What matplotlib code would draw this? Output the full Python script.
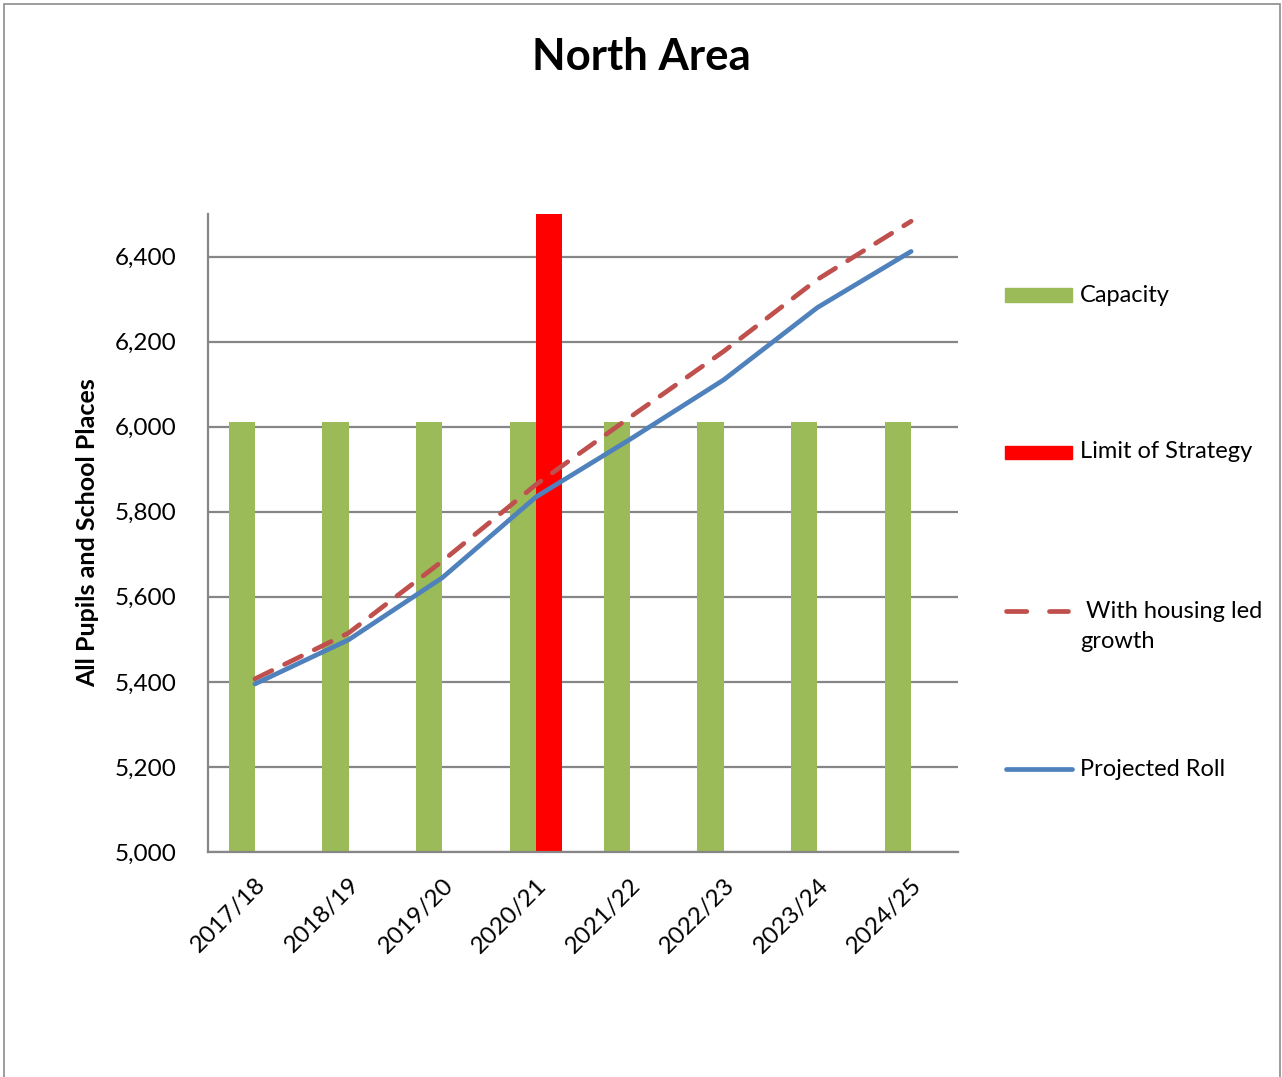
import numpy as np
import matplotlib
matplotlib.use("Agg")
import matplotlib.pyplot as plt
from matplotlib.patches import Rectangle
from matplotlib.lines import Line2D
from matplotlib.ticker import FuncFormatter

## Data
years = ["2017/18", "2018/19", "2019/20", "2020/21",
         "2021/22", "2022/23", "2023/24", "2024/25"]
capacity = [6010, 6010, 6010, 6010, 6010, 6010, 6010, 6010]
limit_of_strategy = [0, 0, 0, 6500, 0, 0, 0, 0]
housing_growth = [5407, 5515, 5684, 5864, 6022, 6177, 6346, 6483]
projected_roll = [5395, 5499, 5645, 5835, 5970, 6110, 6280, 6412]

GREEN = "#9BBB59"
RED = "#FF0000"
DASH_RED = "#C0504D"
BLUE = "#4F81BD"
GRID = "#868686"

plt.rcParams["font.family"] = ["Lato", "DejaVu Sans"]

W, H = 1282, 1077


def fx(px):
  # Pixel x to figure fraction.
  return px / W


def fy(py):
  # Pixel y (from top) to figure fraction.
  return 1 - py / H


# Figure with the thin grey frame round it.
fig = plt.figure(figsize=(W / 100, H / 100), dpi=100)
fig.patches.append(Rectangle((fx(4), -0.01), fx(1276), 1.0 - 4 / H + 0.01,
                             transform=fig.transFigure, fill=False,
                             edgecolor="#8c8c8c", linewidth=1.2))

ax = fig.add_axes([fx(208), fy(852), fx(750), 638 / H])
x = np.arange(len(years))
w = 0.28

# Bars: capacity left of centre, limit of strategy right of centre.
ax.bar(x - w / 2, capacity, width=w, color=GREEN, zorder=2)
ax.bar(x + w / 2, limit_of_strategy, width=w, color=RED, zorder=2)

# Lines.
ax.plot(x, housing_growth, color=DASH_RED, linewidth=3.4, dashes=(4, 3),
        dash_capstyle="round", zorder=3)
ax.plot(x, projected_roll, color=BLUE, linewidth=3.4,
        solid_capstyle="round", zorder=4)

# Axes, ticks and grid.
ax.set_xlim(-0.5, len(years) - 0.5)
ax.set_ylim(5000, 6500)
ax.set_yticks(np.arange(5000, 6401, 200))
ax.yaxis.set_major_formatter(FuncFormatter(lambda v, p: f"{int(v):,}"))
ax.set_xticks(x)
ax.set_xticklabels(years, rotation=45, ha="right", rotation_mode="anchor")
ax.tick_params(axis="x", length=0, labelsize=17.5, pad=16)
ax.tick_params(axis="y", length=0, labelsize=17.5, pad=23)
ax.grid(axis="y", color=GRID, linewidth=1.6, zorder=0)
ax.set_axisbelow(True)
for side in ["top", "right"]:
  ax.spines[side].set_visible(False)
for side in ["left", "bottom"]:
  ax.spines[side].set_color(GRID)
  ax.spines[side].set_linewidth(1.6)

fig.text(fx(88), fy(533), "All Pupils and School Places", rotation=90,
         ha="center", va="center", fontsize=18, fontweight="bold")
fig.text(0.5, fy(57), "North Area", ha="center", va="center",
         fontsize=31.5, fontweight="bold")

# Legend on the right, drawn by hand so each entry sits where it does.
fig.patches.append(Rectangle((fx(1005), fy(302)), fx(67), 14 / H,
                             transform=fig.transFigure, color=GREEN))
fig.patches.append(Rectangle((fx(1005), fy(459)), fx(67), 13 / H,
                             transform=fig.transFigure, color=RED))
fig.lines.append(Line2D([fx(1006), fx(1068)], [fy(611), fy(611)],
                        transform=fig.transFigure, color=DASH_RED, linewidth=3.4,
                        dashes=(4.3, 4.8), dash_capstyle="round"))
fig.lines.append(Line2D([fx(1006), fx(1072)], [fy(769), fy(769)],
                        transform=fig.transFigure, color=BLUE, linewidth=3.4,
                        solid_capstyle="round"))
legend_items = [("Capacity", 295), ("Limit of Strategy", 452),
                (" With housing led", 611), ("growth", 641), ("Projected Roll", 769)]
for label, ypx in legend_items:
  fig.text(fx(1080), fy(ypx), label, ha="left", va="center", fontsize=17)

fig.savefig("out.png", dpi=100)
